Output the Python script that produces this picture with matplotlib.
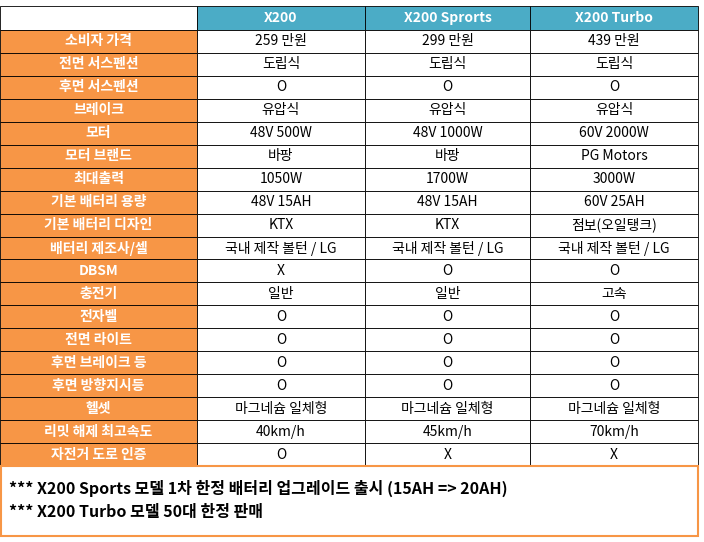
import matplotlib
matplotlib.use("Agg")
import matplotlib.pyplot as plt
from matplotlib.patches import Rectangle
from matplotlib import font_manager

names = {f.name for f in font_manager.fontManager.ttflist}
fam = [n for n in ["Noto Sans CJK KR", "Noto Sans CJK JP", "Noto Sans CJK SC"] if n in names]
plt.rcParams["font.family"] = fam[:1] + ["DejaVu Sans"]

models = ["X200", "X200 Sprorts", "X200 Turbo"]
labels = ["소비자 가격", "전면 서스펜션", "후면 서스펜션", "브레이크", "모터", "모터 브랜드",
          "최대출력", "기본 배터리 용량", "기본 배터리 디자인", "배터리 제조사/셀", "DBSM",
          "충전기", "전자벨", "전면 라이트", "후면 브레이크 등", "후면 방향지시등", "헬셋",
          "리밋 해제 최고속도", "자전거 도로 인증"]
x200 = ["259 만원", "도립식", "O", "유압식", "48V 500W", "바팡", "1050W", "48V 15AH", "KTX",
        "국내 제작 볼턴 / LG", "X", "일반", "O", "O", "O", "O", "마그네슘 일체형", "40km/h", "O"]
sports = ["299 만원", "도립식", "O", "유압식", "48V 1000W", "바팡", "1700W", "48V 15AH", "KTX",
          "국내 제작 볼턴 / LG", "O", "일반", "O", "O", "O", "O", "마그네슘 일체형", "45km/h", "X"]
turbo = ["439 만원", "도립식", "O", "유압식", "60V 2000W", "PG Motors", "3000W", "60V 25AH",
         "점보(오일탱크)", "국내 제작 볼턴 / LG", "O", "고속", "O", "O", "O", "O", "마그네슘 일체형",
         "70km/h", "X"]
notes = ["*** X200 Sports 모델 1차 한정 배터리 업그레이드 출시 (15AH => 20AH)",
         "*** X200 Turbo 모델 50대 한정 판매"]

W, H = 704, 542
fig = plt.figure(figsize=(W / 100, H / 100), dpi=100)
ax = fig.add_axes([0, 0, 1, 1])
ax.set_xlim(0, W); ax.set_ylim(H, 0); ax.axis("off")

teal = "#4BACC6"; orange = "#F79646"
colx = [0, 197, 365, 530, 698]
top, hb, bot = 6, 30, 466
rh = (bot - hb) / len(labels)

ax.add_patch(Rectangle((0, top), colx[1], hb - top, fc="white", ec="black", lw=0.6))
for i, m in enumerate(models):
    ax.add_patch(Rectangle((colx[i + 1], top), colx[i + 2] - colx[i + 1], hb - top,
                           fc=teal, ec="black", lw=0.6))
    ax.text((colx[i + 1] + colx[i + 2]) / 2, (top + hb) / 2, m, color="white",
            fontweight="bold", fontsize=10, ha="center", va="center")

cols = [x200, sports, turbo]
for r, lab in enumerate(labels):
    y0 = hb + r * rh
    ax.add_patch(Rectangle((0, y0), colx[1], rh, fc=orange, ec="black", lw=0.6))
    ax.text(colx[1] / 2, y0 + rh / 2, lab, color="white", fontweight="bold",
            fontsize=10, ha="center", va="center")
    for c in range(3):
        ax.add_patch(Rectangle((colx[c + 1], y0), colx[c + 2] - colx[c + 1], rh,
                               fc="white", ec="black", lw=0.6))
        ax.text((colx[c + 1] + colx[c + 2]) / 2, y0 + rh / 2, cols[c][r], color="black",
                fontsize=10, ha="center", va="center")

ax.add_patch(Rectangle((1, bot), colx[4] - 1, 536 - bot, fc="white", ec=orange, lw=1.5))
for k, n in enumerate(notes):
    ax.text(9, 488 + k * 24, n, fontsize=11.5, fontweight="bold", fontstyle="italic",
            ha="left", va="center", color="black")

fig.savefig("out.png", dpi=100)
